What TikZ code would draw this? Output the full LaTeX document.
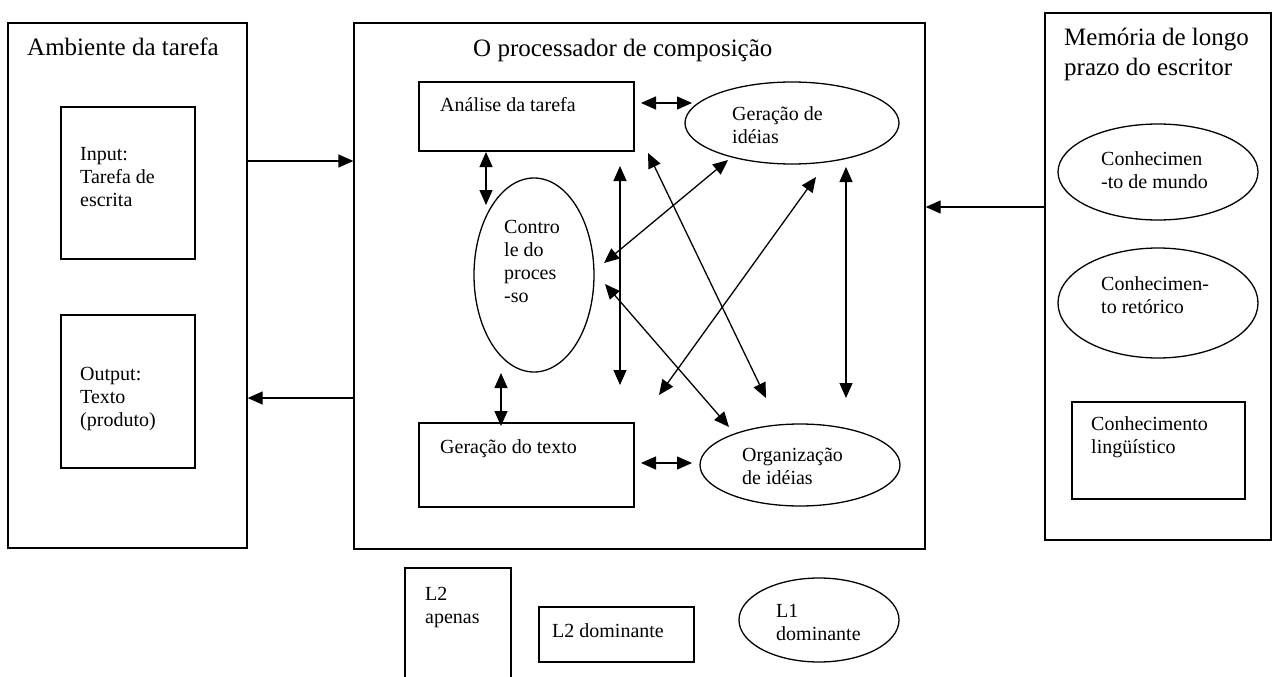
\documentclass[tikz,border=0pt]{standalone}
\usepackage{fontspec}
\setmainfont{Liberation Serif}
\usetikzlibrary{arrows.meta,shapes.geometric}
\begin{document}
\begin{tikzpicture}[x=1pt,y=-1pt,
  box/.style={draw,rectangle,line width=1.3pt,inner sep=0pt},
  oval/.style={draw,ellipse,line width=1.3pt,inner sep=0pt},
  txt/.style={font=\fontsize{20}{23}\selectfont,align=left,inner sep=0pt,anchor=base west},
  ttl/.style={font=\fontsize{25}{30}\selectfont,align=left,inner sep=0pt,anchor=base west},
  arr/.style={line width=1.3pt,-{Triangle[length=15pt,width=13pt]}},
  dbl/.style={line width=1.3pt,{Triangle[length=15pt,width=13pt]}-{Triangle[length=15pt,width=13pt]}}]
\useasboundingbox (0,0) rectangle (1272,677);
\fill[white] (0,0) rectangle (1272,677);
% (base anchor of a multi-line text = baseline of its last line)

% outer boxes
\node[box,minimum width=239pt,minimum height=525pt] (envbox) at (127.5,285.5) {};
\node[box,minimum width=571pt,minimum height=526pt] (procbox) at (639.5,286) {};
\node[box,minimum width=226pt,minimum height=527pt] (memoria) at (1158,276.5) {};

% titles
\node[ttl] (envtitle) at (27,56) {Ambiente da tarefa};
\node[ttl] (proctitle) at (473,57) {O processador de composição};
\node[ttl] (memtitle) at (1064,75) {Memória de longo\\prazo do escritor};

% left boxes
\node[box,minimum width=134pt,minimum height=152pt] (inputbox) at (128,183) {};
\node[box,minimum width=134pt,minimum height=153pt] (outputbox) at (128,391.5) {};
\node[txt] (inputtxt) at (80,206) {Input:\\Tarefa de\\escrita};
\node[txt] (outputtxt) at (80,426) {Output:\\Texto\\(produto)};

% processor elements
\node[box,minimum width=215pt,minimum height=69pt] (analise) at (526.5,116.5) {};
\node[txt] (analisetxt) at (440,111) {Análise da tarefa};
\node[oval,minimum width=214pt,minimum height=82pt] (geracaoid) at (792,123) {};
\node[txt] (geracaoidtxt) at (732,143) {Geração de\\idéias};
\node[oval,minimum width=120pt,minimum height=194pt] (controle) at (534,275) {};
\node[txt] (controletxt) at (504,302) {Contro\\le do\\proces\\-so};
\node[box,minimum width=215pt,minimum height=84pt] (geracaotx) at (526.5,465) {};
\node[txt] (geracaotxtxt) at (440,453) {Geração do texto};
\node[oval,minimum width=200pt,minimum height=82pt] (organiz) at (800,465) {};
\node[txt] (organiztxt) at (742,484) {Organização\\de idéias};

% memory elements
\node[oval,minimum width=200pt,minimum height=96pt] (mundo) at (1158,172) {};
\node[txt] (mundotxt) at (1101,188) {Conhecimen\\-to de mundo};
\node[oval,minimum width=200pt,minimum height=110pt] (retorico) at (1158,303) {};
\node[txt] (retoricotxt) at (1101,313) {Conhecimen-\\to retórico};
\node[box,minimum width=173pt,minimum height=97pt] (linguist) at (1158.5,450.5) {};
\node[txt] (linguisttxt) at (1091,453) {Conhecimento\\lingüístico};

% legend
\node[box,minimum width=106pt,minimum height=124pt] (l2apenas) at (458,630) {};
\node[txt] (l2apenastxt) at (425,623) {L2\\apenas};
\node[box,minimum width=155pt,minimum height=55pt] (l2dom) at (616.5,634.5) {};
\node[txt] (l2domtxt) at (552,637) {L2 dominante};
\node[oval,minimum width=160pt,minimum height=84pt] (l1dom) at (819,620) {};
\node[txt] (l1domtxt) at (776,640) {L1\\dominante};

% levels of the arrows between outer boxes
\coordinate (yin) at (300,161);
\coordinate (yout) at (300,398);
\coordinate (ymem) at (1000,207);
\draw[arr] (envbox.east |- yin) -- (procbox.west |- yin);
\draw[arr] (procbox.west |- yout) -- (envbox.east |- yout);
\draw[arr] (memoria.west |- ymem) -- (procbox.east |- ymem);

% free arrow ends
\coordinate (p1a) at (641,103);  \coordinate (p1b) at (692,103);
\coordinate (p2a) at (486,152);  \coordinate (p2b) at (486,205);
\coordinate (p3a) at (501,373);  \coordinate (p3b) at (501,426);
\coordinate (p4a) at (641,463);  \coordinate (p4b) at (692,463);
\coordinate (p5a) at (620,166);  \coordinate (p5b) at (620,385);
\coordinate (p6a) at (846,167);  \coordinate (p6b) at (846,398);
\coordinate (p7a) at (604,263);  \coordinate (p7b) at (728,160);
\coordinate (p8a) at (659,395);  \coordinate (p8b) at (816,177);
\coordinate (p9a) at (648,153);  \coordinate (p9b) at (766,398);
\coordinate (p10a) at (605,284); \coordinate (p10b) at (729,427);

\draw[dbl] (p1a) -- (p1b);
\draw[dbl] (p2a) -- (p2b);
\draw[dbl] (p3a) -- (p3b);
\draw[dbl] (p4a) -- (p4b);
\draw[dbl] (p5a) -- (p5b);
\draw[dbl] (p6a) -- (p6b);
\draw[dbl] (p7a) -- (p7b);
\draw[dbl] (p8a) -- (p8b);
\draw[dbl] (p9a) -- (p9b);
\draw[dbl] (p10a) -- (p10b);
\end{tikzpicture}
\end{document}
